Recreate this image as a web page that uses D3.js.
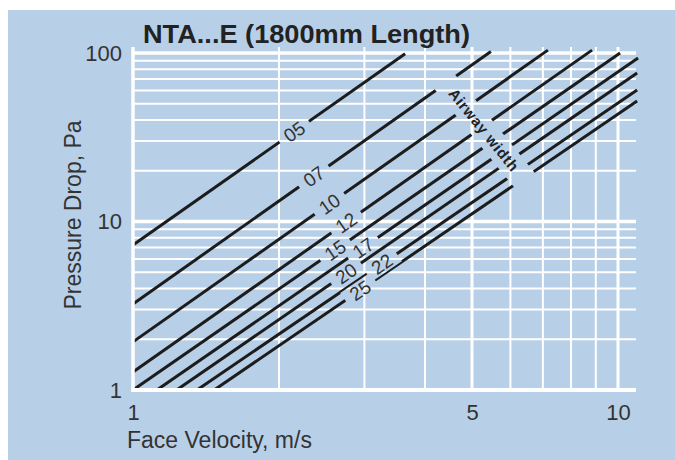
<!DOCTYPE html>
<html>
<head>
<meta charset="utf-8">
<script src="https://cdn.jsdelivr.net/npm/d3@7"></script>
<style>
  body { margin: 0; background: #fff; }
  text { font-family: "Liberation Sans", Arial, sans-serif; }
</style>
</head>
<body>
<div id="chart"></div>
<script>
// airway widths, one line each; lines are straight on log-log, so two ends each
const airwayWidths = ['05', '07', '10', '12', '15', '17', '20', '22', '25'];
const startVelocity = [1, 1, 1, 1, 1, 1.12, 1.23, 1.355, 1.47];
const startPressure = [7.25, 3.24, 1.93, 1.28, 1, 1, 1, 1, 1];
const endVelocity = [3.64, 5.47, 7.17, 8.84, 10.1, 11.0, 10.95, 10.95, 10.95];
const endPressure = [99, 102, 104, 104, 100, 93.4, 76.1, 60.3, 51.9];
// where along each line its width label sits (velocity)
const labelVelocity = [2.15, 2.36, 2.54, 2.75, 2.61, 2.98, 2.75, 3.26, 2.94];

const xGrid = [2, 3, 4, 5, 6, 7, 8, 9, 10];
const xMajor = [5, 10];
const yGrid = [2, 3, 4, 5, 6, 7, 8, 9, 10, 20, 30, 40, 50, 60, 70, 80, 90, 100];
const yMajor = [10, 100];
const xTicks = [1, 5, 10];
const yTicks = [1, 10, 100];

const title = 'NTA...E (1800mm Length)';
const xLabel = 'Face Velocity, m/s';
const yLabel = 'Pressure Drop, Pa';
const airwayNote = {text: 'Airway width', v: 5.29, p: 34.9};

const W = 675, H = 460;
const blue = '#b8cfe8';

const svg = d3.select('#chart').append('svg')
  .attr('width', W)
  .attr('height', H);

svg.append('rect')
  .attr('x', 8).attr('y', 10)
  .attr('width', W - 8).attr('height', H - 10)
  .attr('fill', blue);

const x = d3.scaleLog().domain([1, 10]).range([133, 618]);
const y = d3.scaleLog().domain([1, 100]).range([390, 53]);
const gridRight = 636, gridTop = 47;

// grid
svg.append('g')
  .selectAll('line')
  .data(yGrid)
  .join('line')
    .attr('x1', x(1)).attr('x2', gridRight)
    .attr('y1', d => y(d)).attr('y2', d => y(d))
    .attr('stroke', '#fff')
    .attr('stroke-width', d => yMajor.includes(d) ? 3.5 : 2);

svg.append('g')
  .selectAll('line')
  .data(xGrid)
  .join('line')
    .attr('x1', d => x(d)).attr('x2', d => x(d))
    .attr('y1', y(1)).attr('y2', gridTop)
    .attr('stroke', '#fff')
    .attr('stroke-width', d => xMajor.includes(d) ? 3 : 2);

// line data + label spots
const lines = airwayWidths.map((w, i) => {
  let l0 = Math.log10(startVelocity[i]), l1 = Math.log10(endVelocity[i]);
  let p0 = Math.log10(startPressure[i]), p1 = Math.log10(endPressure[i]);
  let t = (Math.log10(labelVelocity[i]) - l0) / (l1 - l0);
  let lp = Math.pow(10, p0 + t * (p1 - p0));
  let angle = Math.atan2(y(endPressure[i]) - y(startPressure[i]),
                         x(endVelocity[i]) - x(startVelocity[i])) * 180 / Math.PI;
  return {
    name: w,
    pts: [[startVelocity[i], startPressure[i]], [endVelocity[i], endPressure[i]]],
    lx: x(labelVelocity[i]), ly: y(lp), angle
  };
});

// mask to cut the lines where labels sit
const mask = svg.append('defs').append('mask')
  .attr('id', 'gaps')
  .attr('maskUnits', 'userSpaceOnUse')
  .attr('x', 0).attr('y', 0).attr('width', W).attr('height', H);
mask.append('rect').attr('width', W).attr('height', H).attr('fill', '#fff');
mask.selectAll('rect.lab')
  .data(lines)
  .join('rect')
    .classed('lab', true)
    .attr('x', -18).attr('y', -9).attr('width', 36).attr('height', 18)
    .attr('transform', d => `translate(${d.lx} ${d.ly}) rotate(${d.angle})`)
    .attr('fill', '#000');
const ax = x(airwayNote.v), ay = y(airwayNote.p), aAngle = 51;
mask.append('rect')
  .attr('x', -72).attr('y', -12.5).attr('width', 144).attr('height', 25)
  .attr('transform', `translate(${ax} ${ay}) rotate(${aAngle})`)
  .attr('fill', '#000');

const lineGen = d3.line().x(d => x(d[0])).y(d => y(d[1]));
svg.append('g')
  .attr('mask', 'url(#gaps)')
  .selectAll('path')
  .data(lines)
  .join('path')
    .attr('d', d => lineGen(d.pts))
    .attr('fill', 'none')
    .attr('stroke', '#1c1c1c')
    .attr('stroke-width', 3);

svg.append('g')
  .selectAll('text')
  .data(lines)
  .join('text')
    .attr('transform', d => `translate(${d.lx} ${d.ly}) rotate(${d.angle})`)
    .attr('text-anchor', 'middle')
    .attr('dy', '0.36em')
    .attr('font-size', 19)
    .attr('fill', '#333')
    .text(d => d.name);

svg.append('text')
  .attr('transform', `translate(${ax} ${ay}) rotate(${aAngle})`)
  .attr('text-anchor', 'middle')
  .attr('dy', '0.35em')
  .attr('font-size', 15)
  .attr('font-weight', 'bold')
  .attr('letter-spacing', 0.8)
  .attr('fill', '#222')
  .text(airwayNote.text);

// axis lines on top
svg.append('line')
  .attr('x1', x(1)).attr('x2', x(1))
  .attr('y1', y(1) + 2).attr('y2', gridTop)
  .attr('stroke', '#fff').attr('stroke-width', 3.5);
svg.append('line')
  .attr('x1', x(1) - 1.75).attr('x2', gridRight)
  .attr('y1', y(1)).attr('y2', y(1))
  .attr('stroke', '#fff').attr('stroke-width', 4);

// tick labels
const yAxis = svg.append('g')
  .attr('transform', `translate(${x(1)} 0)`)
  .call(d3.axisLeft(y).tickValues(yTicks).tickFormat(d3.format('d')).tickSize(0).tickPadding(11));
const xAxis = svg.append('g')
  .attr('transform', `translate(0 ${y(1)})`)
  .call(d3.axisBottom(x).tickValues(xTicks).tickFormat(d3.format('d')).tickSize(0).tickPadding(14));
for (let a of [xAxis, yAxis]) {
  a.select('.domain').remove();
  a.attr('font-size', null).attr('font-family', null);
  a.selectAll('text').attr('font-size', 22).attr('fill', '#333');
}

// titles
svg.append('text')
  .attr('x', 143).attr('y', 42.5)
  .attr('font-size', 26)
  .attr('font-weight', 'bold')
  .attr('textLength', 327)
  .attr('lengthAdjust', 'spacingAndGlyphs')
  .attr('fill', '#222')
  .text(title);

svg.append('text')
  .attr('x', 127).attr('y', 448)
  .attr('font-size', 23)
  .attr('fill', '#333')
  .text(xLabel);

svg.append('text')
  .attr('transform', 'translate(81 215) rotate(-90)')
  .attr('text-anchor', 'middle')
  .attr('font-size', 23)
  .attr('fill', '#333')
  .text(yLabel);
</script>
</body>
</html>
